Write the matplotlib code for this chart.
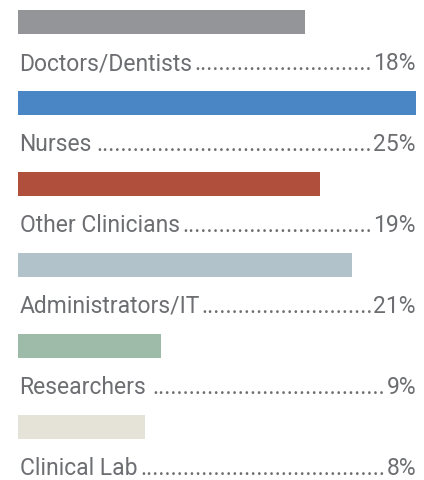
import matplotlib
matplotlib.use("Agg")
import matplotlib.pyplot as plt

# staff categories and their share
categories = ["Doctors/Dentists", "Nurses", "Other Clinicians",
              "Administrators/IT", "Researchers", "Clinical Lab"]
shares = [18, 25, 19, 21, 9, 8]
colors = ["#939598", "#4a86c5", "#b0503c", "#b1c2cb", "#9dbba8", "#e5e3d8"]

TEXT_COLOR = "#6d6e71"
FONT = "Roboto"
FONT_SIZE = 16.5

W, H = 424, 480
fig = plt.figure(figsize=(W / 100, H / 100), dpi=100)
ax = fig.add_axes([18 / W, 0, 398 / W, 1])
ax.set_xlim(0, max(shares))
pitch = 81.0
ax.set_ylim((H - 22) / pitch, -22 / pitch)
ax.axis("off")

ax.barh(range(len(categories)), shares, height=24 / pitch, color=colors)

fig.canvas.draw()
renderer = fig.canvas.get_renderer()
inv = ax.transData.inverted()

probe = ax.text(0, 0, "." * 20, fontsize=FONT_SIZE, family=FONT)
dot_w = probe.get_window_extent(renderer).width / 20
probe.remove()

for i, (cat, val) in enumerate(zip(categories, shares)):
    y = i + 48 / pitch  # baseline of the label row
    lab = ax.text(0.1, y, cat, ha="left", va="baseline", fontsize=FONT_SIZE,
                  family=FONT, color=TEXT_COLOR)
    pct = ax.text(max(shares), y, f"{val}%", ha="right", va="baseline",
                  fontsize=FONT_SIZE, family=FONT, color=TEXT_COLOR)
    lb = lab.get_window_extent(renderer)
    pb = pct.get_window_extent(renderer)
    gap = pb.x0 - lb.x1 - 2
    n = int(gap // dot_w)
    x_end = inv.transform((pb.x0 - 1, 0))[0]
    ax.text(x_end, y, "." * n, ha="right", va="baseline", fontsize=FONT_SIZE,
            family=FONT, color=TEXT_COLOR)

fig.savefig("out.png", dpi=100)
